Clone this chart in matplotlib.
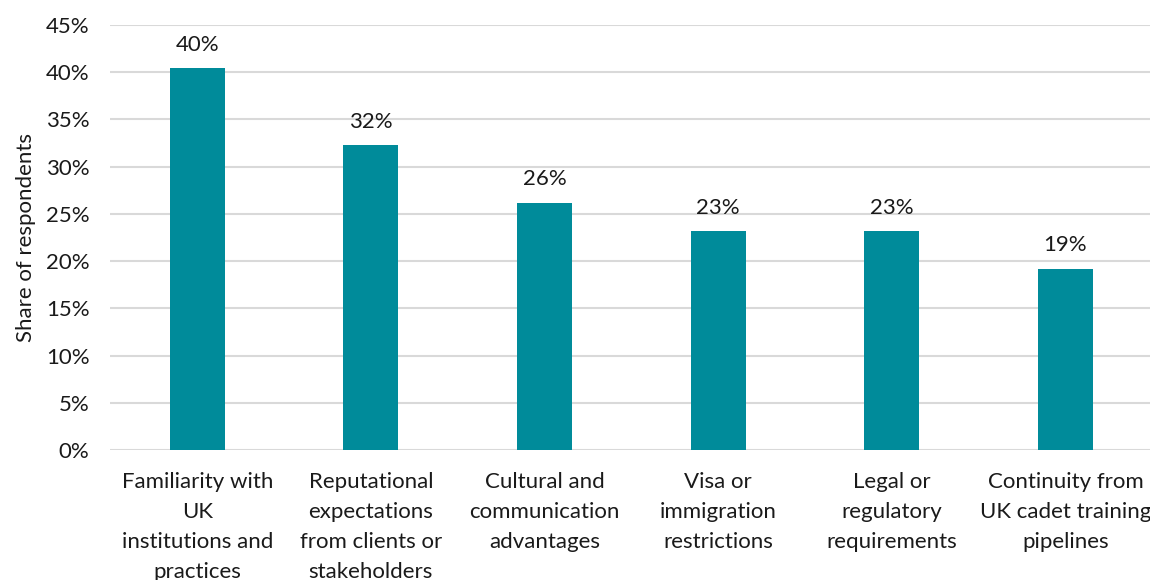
import matplotlib.pyplot as plt
from matplotlib.ticker import FuncFormatter

# survey results, share of respondents (%)
categories = ["Familiarity with\nUK\ninstitutions and\npractices",
              "Reputational\nexpectations\nfrom clients or\nstakeholders",
              "Cultural and\ncommunication\nadvantages",
              "Visa or\nimmigration\nrestrictions",
              "Legal or\nregulatory\nrequirements",
              "Continuity from\nUK cadet training\npipelines"]
shares = [40.4, 32.3, 26.2, 23.2, 23.2, 19.2]
y_ticks = [0, 5, 10, 15, 20, 25, 30, 35, 40, 45]

plt.rcParams['font.family'] = ['Lato', 'DejaVu Sans']
fs = 16

fig = plt.figure(figsize=(11.5, 5.8), dpi=100)
ax = fig.add_axes([0.096, 0.224, 0.906, 0.733])

x = range(len(categories))
bars = ax.bar(x, shares, width=0.316, color='#008B9A', zorder=3)

# value labels above bars
for b, v in zip(bars, shares):
    ax.text(b.get_x() + b.get_width() / 2, v + 1.4, '{:.0f}%'.format(v),
            ha='center', va='bottom', fontsize=fs, color='#1a1a1a')

ax.set_xlim(-0.5, len(categories) - 0.5)
ax.set_ylim(0, 45)
ax.set_yticks(y_ticks)
ax.yaxis.set_major_formatter(FuncFormatter(lambda v, p: '{:.0f}%'.format(v)))
ax.grid(axis='y', color='#D9D9D9', linewidth=1.5, zorder=0)
ax.set_xticks(list(x))
ax.set_xticklabels(categories, fontsize=fs, color='#1a1a1a', linespacing=1.62)
ax.tick_params(axis='y', labelsize=fs, labelcolor='#1a1a1a', length=0, pad=15)
ax.tick_params(axis='x', length=0, pad=16)
for s in ax.spines.values():
    s.set_visible(False)
ax.set_ylabel('Share of respondents', fontsize=fs, color='#1a1a1a')
ax.yaxis.set_label_coords(-0.071, 0.5)

fig.savefig('out.png', dpi=100)
